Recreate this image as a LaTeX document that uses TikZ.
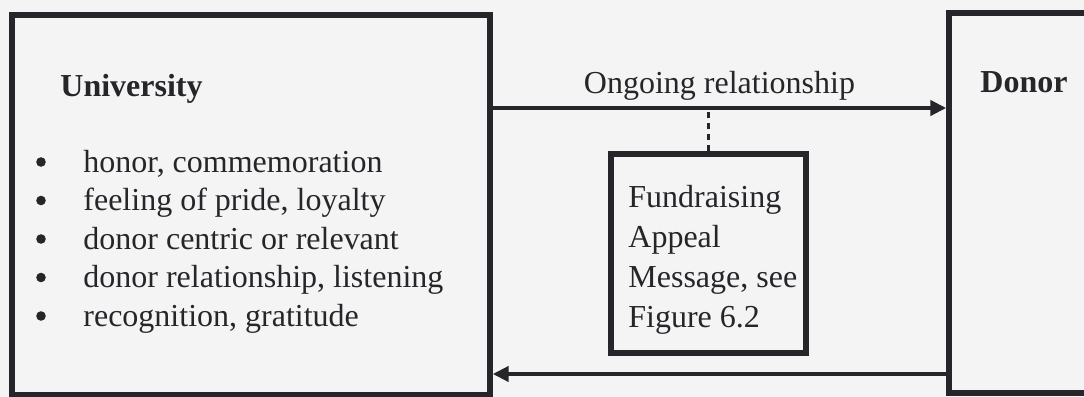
\documentclass[tikz,border=0pt]{standalone}
\usepackage{fontspec}
\setmainfont{Liberation Serif}
\usetikzlibrary{positioning, arrows.meta}
\definecolor{ink}{RGB}{38,38,42}
\definecolor{paper}{RGB}{245,244,244}

\begin{document}
\begin{tikzpicture}[
    x=0.5pt, y=-0.5pt,
    every node/.style={font=\fontsize{16}{19.5}\selectfont, text=ink, inner sep=0pt},
    frame/.style={draw=ink, line width=2.7pt, fill=paper},
    head/.style={font=\fontsize{16}{19.5}\selectfont\bfseries, anchor=base west},
    item/.style={anchor=base west},
    dot/.style={circle, fill=ink, minimum size=4.8pt},
    flow/.style={draw=ink, line width=2.3pt, -{Triangle[length=8pt, width=7.5pt]}}
]
\useasboundingbox (0,0) rectangle (1084,397);
\clip (0,0) rectangle (1084,397);
\fill[paper] (0,0) rectangle (1084,397);

% boxes
\node[frame, minimum width=239pt, minimum height=190pt] (univ) at (251,205) {};
\node[frame, minimum width=85.5pt, minimum height=190pt] (donor) at (1034.5,203) {};
\node[frame, minimum width=97.5pt, minimum height=99.5pt] (appeal) at (708.5,253.5) {};

% titles
\node[head] (univtitle) at (60,96) {University};
\node[head] (donortitle) at (980,92) {Donor};

% university list
\foreach \txt [count=\i] in {{honor, commemoration}, {feeling of pride, loyalty}, {donor centric or relevant}, {donor relationship, listening}, {recognition, gratitude}} {
    \node[item] (item\i) at (83,133.5+38.5*\i) {\txt};
    \node[dot] (dot\i) at (41,123.5+38.5*\i) {};
}

% appeal text
\foreach \txt [count=\i] in {Fundraising, Appeal, {Message, see}, Figure 6.2}
    \node[item] (line\i) at (628,167+40*\i) {\txt};

% connectors
\coordinate (toprow) at (0,108);
\coordinate (botrow) at (0,374);
\draw[flow] (univ.east |- toprow) -- node[above=2.5pt] (ongoing) {Ongoing relationship} (donor.west |- toprow);
\draw[flow] (donor.west |- botrow) -- (univ.east |- botrow);
\draw[ink, line width=1.3pt, dash pattern=on 3pt off 2.5pt] (appeal.north) -- (appeal.north |- toprow);
\end{tikzpicture}
\end{document}
